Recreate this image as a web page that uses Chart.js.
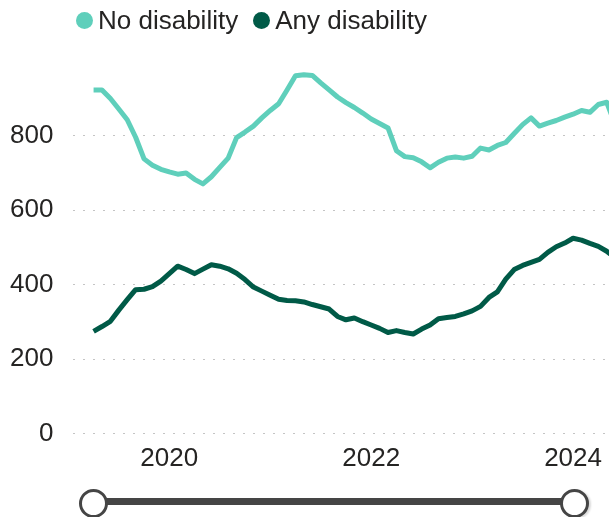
<!DOCTYPE html>
<html>
<head>
<meta charset="utf-8">
<script src="https://cdn.jsdelivr.net/npm/chart.js@4.4.1/dist/chart.umd.min.js"></script>
<style>
    html, body { margin: 0; padding: 0; background: #fff; overflow: hidden; }
    #wrap { position: relative; width: 611px; height: 517px; }
    #legend { position: absolute; left: 76px; top: 7px; display: flex; font: 26px 'Liberation Sans', Arial, sans-serif; color: #252423; line-height: 26px; }
    .item { display: flex; align-items: center; margin-right: 15px; }
    .dot { width: 17px; height: 17px; border-radius: 50%; margin-right: 5px; }
    #track { position: absolute; left: 93px; top: 498px; width: 481px; height: 7px; background: #454545; }
    .knob { position: absolute; top: 489px; width: 23px; height: 23px; border: 3px solid #454545; border-radius: 50%; background: #fff; }
</style>
</head>
<body>
<div id="wrap">
    <canvas id="myChart" width="611" height="517"></canvas>
    <div id="legend"></div>
    <div id="track"></div>
    <div class="knob" style="left:79px"></div>
    <div class="knob" style="left:560px; box-shadow: 2px 1px 2px rgba(0,0,0,0.15)"></div>
</div>
<script>
// monthly points, Apr 2019 - Jun 2024
const months = [
    '2019-04', '2019-05', '2019-06', '2019-07', '2019-08', '2019-09', '2019-10', '2019-11', '2019-12',
    '2020-01', '2020-02', '2020-03', '2020-04', '2020-05', '2020-06', '2020-07', '2020-08', '2020-09', '2020-10', '2020-11', '2020-12',
    '2021-01', '2021-02', '2021-03', '2021-04', '2021-05', '2021-06', '2021-07', '2021-08', '2021-09', '2021-10', '2021-11', '2021-12',
    '2022-01', '2022-02', '2022-03', '2022-04', '2022-05', '2022-06', '2022-07', '2022-08', '2022-09', '2022-10', '2022-11', '2022-12',
    '2023-01', '2023-02', '2023-03', '2023-04', '2023-05', '2023-06', '2023-07', '2023-08', '2023-09', '2023-10', '2023-11', '2023-12',
    '2024-01', '2024-02', '2024-03', '2024-04', '2024-05', '2024-06'
];
const noDisability = [
    923, 923, 900, 872, 843, 796, 738, 721, 710,
    703, 697, 700, 683, 671, 690, 715, 740, 795, 810, 826, 848,
    868, 886, 923, 961, 964, 962, 942, 923, 904, 889, 876, 861,
    845, 833, 821, 760, 744, 741, 730, 714, 729, 740, 743, 740,
    745, 767, 762, 774, 782, 806, 830, 848, 826, 834, 841, 850,
    858, 868, 863, 884, 890, 830
];
const anyDisability = [
    275, 288, 302, 332, 360, 387, 388, 395, 410,
    430, 450, 441, 430, 442, 454, 450, 443, 431, 414, 394, 383,
    372, 361, 358, 357, 354, 347, 341, 335, 315, 306, 311, 301,
    292, 283, 272, 277, 272, 268, 281, 292, 309, 312, 315, 322,
    330, 342, 366, 381, 415, 441, 452, 460, 468, 487, 502, 512,
    525, 520, 511, 503, 490, 472
];
const seriesNames = ['No disability', 'Any disability'];
const seriesColors = ['#5fcfbb', '#005a47'];
const yTicks = [0, 200, 400, 600, 800];
const xTicks = [2020, 2022, 2024];

const toYear = (m) => {
    const [y, mo] = m.split('-').map(Number);
    return y + (mo - 1) / 12;
};
const pts = (vals) => vals.map((v, i) => ({ x: toYear(months[i]), y: v }));

const font = { family: "'Liberation Sans', Arial, sans-serif", size: 26 };

// legend
document.getElementById('legend').innerHTML = seriesNames.map((n, i) =>
    `<div class="item"><span class="dot" style="background:${seriesColors[i]}"></span>${n}</div>`).join('');

const ctx = document.getElementById('myChart');
new Chart(ctx, {
    type: 'line',
    data: {
        datasets: [
            { label: seriesNames[0], data: pts(noDisability), borderColor: seriesColors[0], backgroundColor: seriesColors[0], borderWidth: 5, pointRadius: 0, tension: 0, borderJoinStyle: 'round' },
            { label: seriesNames[1], data: pts(anyDisability), borderColor: seriesColors[1], backgroundColor: seriesColors[1], borderWidth: 5, pointRadius: 0, tension: 0, borderJoinStyle: 'round' }
        ]
    },
    options: {
        responsive: false,
        animation: false,
        layout: { padding: { left: 10, right: 0, top: 65, bottom: 34 } },
        plugins: { legend: { display: false }, tooltip: { enabled: false } },
        scales: {
            x: {
                type: 'linear',
                min: 2019.05,
                max: 2024.356,
                grid: { display: false, drawTicks: false },
                border: { display: false },
                afterBuildTicks: (axis) => { axis.ticks = xTicks.map(v => ({ value: v })); },
                ticks: { color: '#252423', font: font, padding: 9, maxRotation: 0, callback: (v) => String(v) }
            },
            y: {
                min: 0,
                max: 990,
                grid: { color: '#c4c4c4', lineWidth: 1, drawTicks: false },
                border: { display: false, dash: [2, 8] },
                afterBuildTicks: (axis) => { axis.ticks = yTicks.map(v => ({ value: v })); },
                afterFit: (axis) => { axis.width -= 20; },
                ticks: { color: '#252423', font: font, padding: 20 }
            }
        }
    }
});
</script>
</body>
</html>
